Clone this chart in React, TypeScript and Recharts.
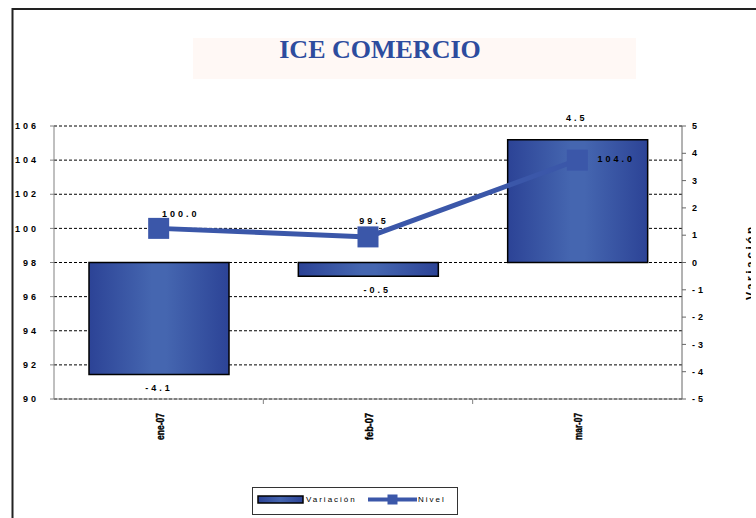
import React from 'react';
import {
  ComposedChart,
  Bar,
  Line,
  XAxis,
  YAxis,
  CartesianGrid,
  Legend,
  LabelList,
  Customized,
} from 'recharts';

// valores
const months = ['ene-07', 'feb-07', 'mar-07'];
const variacion = [-4.1, -0.5, 4.5];
const nivel = [100.0, 99.5, 104.0];
const leftTicks = [90, 92, 94, 96, 98, 100, 102, 104, 106];
const rightTicks = [-5, -4, -3, -2, -1, 0, 1, 2, 3, 4, 5];

const data = months.map((mes, i) => ({
  mes,
  variacion: variacion[i],
  nivel: nivel[i],
}));

const LINE_COLOR = '#3b57a9';
const FONT = '"Liberation Sans", Arial, sans-serif';
const BAND = (682 - 54) / 3;

const nivelOffsets = [
  { dx: 22, dy: -11 },
  { dx: 6, dy: -13 },
  { dx: 39, dy: 2 },
];
const varOffsets = [0, 9, -1];

const SquareDot = (props: any) => {
  const { cx, cy, index } = props;
  if (cx == null || cy == null) return null;
  return (
    <rect
      key={`dot-${index}`}
      x={cx - 10.5}
      y={cy - 10.5}
      width={21}
      height={21}
      fill={LINE_COLOR}
    />
  );
};

const NivelLabel = (props: any) => {
  const { x, y, value, index } = props;
  const o = nivelOffsets[index] || { dx: 0, dy: -12 };
  return (
    <text
      x={x + o.dx}
      y={y + o.dy}
      textAnchor="middle"
      fontFamily={FONT}
      fontWeight="bold"
      fontSize={9}
      letterSpacing={3}
      fill="#000"
    >
      {Number(value).toFixed(1)}
    </text>
  );
};

const VarLabel = (props: any) => {
  const { x, y, width, height, value, index } = props;
  const top = Math.min(y, y + height);
  const bottom = Math.max(y, y + height);
  const ty = value < 0 ? bottom + 17 : top - 18.5;
  return (
    <text
      x={x + width / 2 + (varOffsets[index] || 0)}
      y={ty}
      textAnchor="middle"
      fontFamily={FONT}
      fontWeight="bold"
      fontSize={9}
      letterSpacing={3}
      fill="#000"
    >
      {Number(value).toFixed(1)}
    </text>
  );
};

const MonthTick = (props: any) => {
  const { x, y, payload, index } = props;
  const tx = x + 5;
  const ty = y + 41;
  return (
    <g>
      {index < months.length - 1 && (
        <line x1={x + BAND / 2} x2={x + BAND / 2} y1={y} y2={y + 5} stroke="#808080" />
      )}
      <text
        x={tx}
        y={ty}
        transform={`rotate(-90, ${tx}, ${ty})`}
        textAnchor="start"
        textLength={27}
        lengthAdjust="spacingAndGlyphs"
        fontFamily={FONT}
        fontWeight="bold"
        fontSize={11}
        stroke="#000"
        strokeWidth={0.4}
        fill="#000"
      >
        {payload.value}
      </text>
    </g>
  );
};

const renderLegend = (props: any) => {
  const items = props.payload || [];
  const barItem = items.find((it: any) => it.dataKey === 'variacion');
  const lineItem = items.find((it: any) => it.dataKey === 'nivel');
  return (
    <div
      style={{
        width: 206,
        height: 28,
        border: '1px solid #333',
        boxSizing: 'border-box',
        background: '#fff',
      }}
    >
      <svg width={204} height={26}>
        <defs>
          <linearGradient id="legGrad" x1="0" x2="1" y1="0" y2="0">
            <stop offset="0%" stopColor="#2c4396" />
            <stop offset="50%" stopColor="#4565b0" />
            <stop offset="100%" stopColor="#2c4396" />
          </linearGradient>
        </defs>
        {barItem && (
          <g>
            <rect x={5} y={8} width={45} height={7} fill="url(#legGrad)" stroke="#000" strokeWidth={1.5} />
            <text x={53} y={14} fontFamily={FONT} fontSize={8} letterSpacing={2} fill="#000">
              {barItem.value}
            </text>
          </g>
        )}
        {lineItem && (
          <g>
            <line x1={115} x2={164} y1={11.5} y2={11.5} stroke={LINE_COLOR} strokeWidth={4} />
            <rect x={134.5} y={6.5} width={10} height={10} fill={LINE_COLOR} />
            <text x={165} y={14} fontFamily={FONT} fontSize={8} letterSpacing={2} fill="#000">
              {lineItem.value}
            </text>
          </g>
        )}
      </svg>
    </div>
  );
};

const Decor = () => (
  <g>
    <defs>
      <clipPath id="edgeClip">
        <rect x={0} y={0} width={751} height={518} />
      </clipPath>
    </defs>
    <rect x={12.5} y={9} width={800} height={600} fill="none" stroke="#222" strokeWidth={2} />
    <rect x={193} y={38} width={443} height={41} fill="#fff8f5" />
    <text
      x={380}
      y={58}
      textAnchor="middle"
      fontFamily='"Liberation Serif", "Times New Roman", serif'
      fontWeight="bold"
      fontSize={26}
      fill="#2d4c9e"
    >
      ICE COMERCIO
    </text>
    <g clipPath="url(#edgeClip)">
      <text
        x={755}
        y={262}
        transform="rotate(-90, 755, 262)"
        textAnchor="middle"
        fontFamily={FONT}
        fontWeight="bold"
        fontSize={12}
        letterSpacing={2.5}
        fill="#000"
      >
        Variación
      </text>
    </g>
  </g>
);

export default function App() {
  return (
    <div style={{ position: 'absolute', left: 0, top: 0, width: 756, height: 518, background: '#fff' }}>
      <ComposedChart
        width={756}
        height={518}
        data={data}
        margin={{ top: 126, right: 14, bottom: 69, left: 0 }}
      >
        <defs>
          <linearGradient id="barGrad" x1="0" x2="1" y1="0" y2="0">
            <stop offset="0%" stopColor="#2c4396" />
            <stop offset="45%" stopColor="#4566b0" />
            <stop offset="55%" stopColor="#4566b0" />
            <stop offset="100%" stopColor="#2c4396" />
          </linearGradient>
        </defs>
        <Customized component={Decor} />
        <CartesianGrid
          yAxisId="left"
          vertical={false}
          stroke="#000"
          strokeDasharray="3 2"
        />
        <XAxis
          dataKey="mes"
          height={50}
          stroke="#808080"
          tickLine={false}
          tickSize={0}
          tickMargin={0}
          tick={<MonthTick />}
          interval={0}
        />
        <YAxis
          yAxisId="left"
          orientation="left"
          width={54}
          domain={[90, 106]}
          ticks={leftTicks}
          interval={0}
          allowDataOverflow
          stroke="#808080"
          tickSize={4}
          tickMargin={11}
          tick={{ fontFamily: FONT, fontWeight: 'bold', fontSize: 9, fill: '#000', letterSpacing: 3 }}
        />
        <YAxis
          yAxisId="right"
          orientation="right"
          width={60}
          domain={[-5, 5]}
          ticks={rightTicks}
          interval={0}
          allowDataOverflow
          stroke="#666"
          tickSize={4}
          tickMargin={6}
          tick={{ fontFamily: FONT, fontWeight: 'bold', fontSize: 9, fill: '#000', letterSpacing: 3, textAnchor: 'start' }}
        />
        <Legend
          content={renderLegend}
          layout="horizontal"
          verticalAlign="middle"
          align="center"
          wrapperStyle={{ left: 252, top: 487, width: 206, height: 28 }}
        />
        <Bar
          yAxisId="right"
          dataKey="variacion"
          name="Variación"
          barSize={140}
          fill="url(#barGrad)"
          stroke="#000"
          strokeWidth={1.5}
          isAnimationActive={false}
        >
          <LabelList dataKey="variacion" content={VarLabel} />
        </Bar>
        <Line
          yAxisId="left"
          dataKey="nivel"
          name="Nivel"
          type="linear"
          stroke={LINE_COLOR}
          strokeWidth={5}
          dot={SquareDot}
          activeDot={false}
          isAnimationActive={false}
        >
          <LabelList dataKey="nivel" content={NivelLabel} />
        </Line>
      </ComposedChart>
    </div>
  );
}
